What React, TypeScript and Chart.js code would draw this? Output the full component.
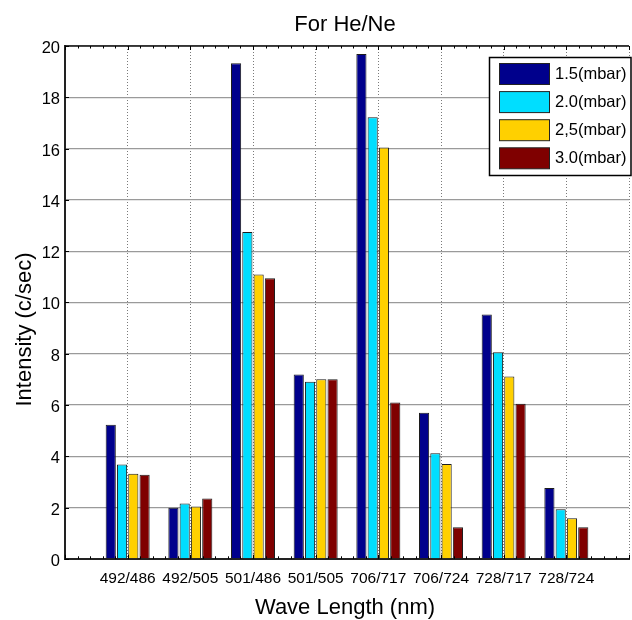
import { useEffect, useRef } from 'react';
import { Chart, registerables } from 'chart.js';

Chart.register(...registerables);

const categories = ['492/486', '492/505', '501/486', '501/505', '706/717', '706/724', '728/717', '728/724'];
const series15 = [5.23, 1.99, 19.33, 7.19, 19.69, 5.7, 9.53, 2.76];
const series20 = [3.68, 2.16, 12.75, 6.91, 17.22, 4.12, 8.06, 1.93];
const series25 = [3.32, 2.04, 11.09, 7.0, 16.04, 3.7, 7.11, 1.58];
const series30 = [3.28, 2.35, 10.94, 7.0, 6.1, 1.23, 6.05, 1.23];
const seriesLabels = ['1.5(mbar)', '2.0(mbar)', '2,5(mbar)', '3.0(mbar)'];
const seriesColors = ['#00008C', '#00DEFF', '#FFD000', '#7F0000'];
const chartTitle = 'For He/Ne';
const xTitle = 'Wave Length (nm)';
const yTitle = 'Intensity (c/sec)';

const FONT = '"Liberation Sans", Arial, sans-serif';

const decor = {
  id: 'decor',
  afterDraw(chart: any) {
    const { ctx, chartArea: a, scales } = chart;
    const x = scales.x;
    const y = scales.y;
    ctx.save();
    // top border
    ctx.strokeStyle = '#111';
    ctx.lineWidth = 1.5;
    ctx.beginPath();
    ctx.moveTo(a.left, a.top);
    ctx.lineTo(a.right, a.top);
    ctx.stroke();
    // minor x ticks top and bottom
    ctx.lineWidth = 1;
    ctx.strokeStyle = '#000';
    const n = (x.max - x.min) * 5;
    for (let i = 0; i <= n; i++) {
      const v = x.min + i / 5;
      const px = Math.round(x.getPixelForValue(v)) + 0.5;
      const len = i % 5 === 0 ? 4 : 2.5;
      ctx.beginPath();
      ctx.moveTo(px, a.top);
      ctx.lineTo(px, a.top + len);
      ctx.moveTo(px, a.bottom);
      ctx.lineTo(px, a.bottom - len);
      ctx.stroke();
    }
    // y major ticks inward
    for (const t of y.ticks) {
      const py = Math.round(y.getPixelForValue(t.value)) + 0.5;
      ctx.beginPath();
      ctx.moveTo(a.left, py);
      ctx.lineTo(a.left + 4, py);
      ctx.stroke();
    }
    // titles
    ctx.fillStyle = '#000';
    ctx.font = `22px ${FONT}`;
    ctx.textAlign = 'center';
    ctx.textBaseline = 'alphabetic';
    const cx = (a.left + a.right) / 2 - 2;
    ctx.fillText(chartTitle, cx, 31);
    ctx.fillText(xTitle, cx, 614);
    ctx.save();
    ctx.translate(30.5, 406.5);
    ctx.rotate(-Math.PI / 2);
    ctx.textAlign = 'left';
    ctx.fillText(yTitle, 0, 0);
    ctx.restore();
    // legend
    const lx = 489.5, ly = 57.5, lw = 141.5, lh = 118;
    ctx.fillStyle = '#fff';
    ctx.fillRect(lx, ly, lw, lh);
    ctx.strokeStyle = '#000';
    ctx.lineWidth = 1.5;
    ctx.strokeRect(lx, ly, lw, lh);
    ctx.font = `16.5px ${FONT}`;
    ctx.textAlign = 'left';
    ctx.textBaseline = 'middle';
    chart.data.datasets.forEach((ds: any, i: number) => {
      const sy = 63.5 + i * 28.1;
      ctx.fillStyle = ds.backgroundColor;
      ctx.fillRect(499.5, sy, 50, 21);
      ctx.strokeStyle = '#222';
      ctx.lineWidth = 1;
      ctx.strokeRect(499.5, sy, 50, 21);
      ctx.fillStyle = '#000';
      ctx.fillText(ds.label, 555, sy + 11);
    });
    ctx.restore();
  },
};

export default function App() {
  const ref = useRef<HTMLCanvasElement>(null);
  useEffect(() => {
    if (!ref.current) return;
    const labels = ['', ...categories, ''];
    const all = [series15, series20, series25, series30];
    const chart = new Chart(ref.current, {
      type: 'bar',
      data: {
        labels,
        datasets: all.map((s, i) => ({
          label: seriesLabels[i],
          data: [null, ...s, null],
          backgroundColor: seriesColors[i],
          borderColor: '#1c1c1c',
          borderWidth: 1,
          barPercentage: 0.9,
          categoryPercentage: 0.72,
        })),
      },
      options: {
        animation: false,
        responsive: true,
        maintainAspectRatio: false,
        layout: { padding: { top: 46, right: 2.3, left: 0, bottom: 0 } },
        plugins: {
          legend: { display: false },
          title: { display: false },
          tooltip: { enabled: false },
        },
        scales: {
          x: {
            type: 'category',
            offset: false,
            grid: { color: '#7a7a7a', lineWidth: 1, drawTicks: false, offset: false },
            border: { display: true, color: '#222', width: 2, dash: [1, 2] },
            ticks: {
              autoSkip: false,
              maxRotation: 0,
              minRotation: 0,
              padding: 11,
              color: '#000',
              font: { family: FONT, size: 15.5 },
            },
            afterFit(s: any) {
              s.height = 61.2;
            },
          },
          y: {
            min: 0,
            max: 20,
            ticks: {
              stepSize: 2,
              padding: 5,
              labelOffset: 2.5,
              color: '#000',
              font: { family: FONT, size: 16.5 },
            },
            grid: { color: '#9a9a9a', lineWidth: 1.2, drawTicks: false },
            border: { display: true, color: '#222', width: 2 },
            afterFit(s: any) {
              s.width = 65;
            },
          },
        },
      },
      plugins: [decor],
    });
    return () => chart.destroy();
  }, []);
  return (
    <div style={{ position: 'fixed', left: 0, top: 0, width: 632, height: 620, overflow: 'hidden', background: '#fff' }}>
      <div style={{ position: 'relative', width: 640, height: 620 }}>
        <canvas ref={ref} />
      </div>
    </div>
  );
}
